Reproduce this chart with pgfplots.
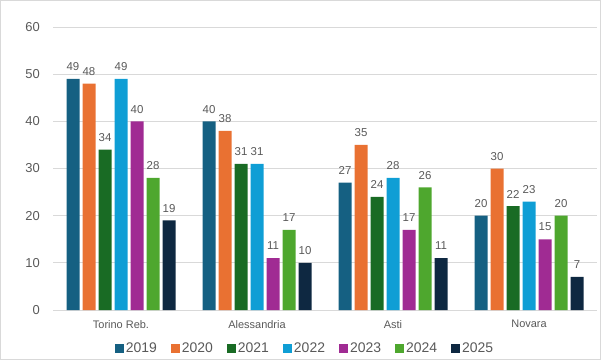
\documentclass[border=0pt]{standalone}
\usepackage{pgfplots}
\pgfplotsset{compat=1.18}
\usepackage{fontspec}
\setmainfont{Liberation Sans}
\definecolor{c19}{HTML}{156082}
\definecolor{c20}{HTML}{E97132}
\definecolor{c21}{HTML}{196B24}
\definecolor{c22}{HTML}{0F9ED5}
\definecolor{c23}{HTML}{A02B93}
\definecolor{c24}{HTML}{4EA72E}
\definecolor{c25}{HTML}{0E2841}
\definecolor{txt}{HTML}{595959}
\definecolor{grd}{HTML}{D9D9D9}
\begin{document}
\begin{tikzpicture}[x=1bp,y=1bp]
\path[use as bounding box] (0,0) rectangle (601,360);
\draw[color=grd, line width=1.2bp] (0.6,0.6) rectangle (600.4,359.4);
\begin{axis}[
  at={(53bp,50bp)}, anchor=south west,
  scale only axis, width=544bp, height=283bp,
  xmin=-0.5, xmax=3.5, ymin=0, ymax=60,
  ytick={0,10,...,60},
  xtick={0,1,2,3},
  xticklabels={Torino Reb.,Alessandria,Asti,Novara},
  ybar, bar width=13bp,
  ymajorgrids, grid style={color=grd, line width=0.8bp},
  axis x line*=bottom, axis y line*=left,
  x axis line style={color=grd, line width=1bp, -},
  y axis line style={draw=none},
  major tick length=0pt,
  /pgf/number format/assume math mode=true,
  yticklabel style={font=\fontsize{13}{15}\selectfont, color=txt, inner sep=0pt, xshift=-13bp},
  xticklabel style={font=\fontsize{11}{13}\selectfont, color=txt, inner sep=0pt, yshift=-10bp},
  nodes near coords,
  every node near coord/.append style={font=\fontsize{11.5}{13}\selectfont, color=txt, inner sep=0pt, yshift=8bp},
  legend columns=7,
  legend style={at={(rel axis cs:0.5,0)}, xshift=-20bp, yshift=-38bp, anchor=center, draw=none, fill=none,
    font=\fontsize{14}{16}\selectfont, text=txt, inner sep=0pt,
    /tikz/every even column/.append style={column sep=12bp}},
  legend image code/.code={\fill[#1] (0bp,-4.5bp) rectangle (9bp,4.5bp);},
]
\addplot[fill=c19, draw=none, bar shift=-48bp] coordinates {(0,49)(1,40)(2,27)(3,20)};
\addplot[fill=c20, draw=none, bar shift=-32bp] coordinates {(0,48)(1,38)(2,35)(3,30)};
\addplot[fill=c21, draw=none, bar shift=-16bp] coordinates {(0,34)(1,31)(2,24)(3,22)};
\addplot[fill=c22, draw=none, bar shift=0bp] coordinates {(0,49)(1,31)(2,28)(3,23)};
\addplot[fill=c23, draw=none, bar shift=16bp] coordinates {(0,40)(1,11)(2,17)(3,15)};
\addplot[fill=c24, draw=none, bar shift=32bp] coordinates {(0,28)(1,17)(2,26)(3,20)};
\addplot[fill=c25, draw=none, bar shift=48bp] coordinates {(0,19)(1,10)(2,11)(3,7)};
\legend{2019,2020,2021,2022,2023,2024,2025}
\end{axis}
\end{tikzpicture}
\end{document}
